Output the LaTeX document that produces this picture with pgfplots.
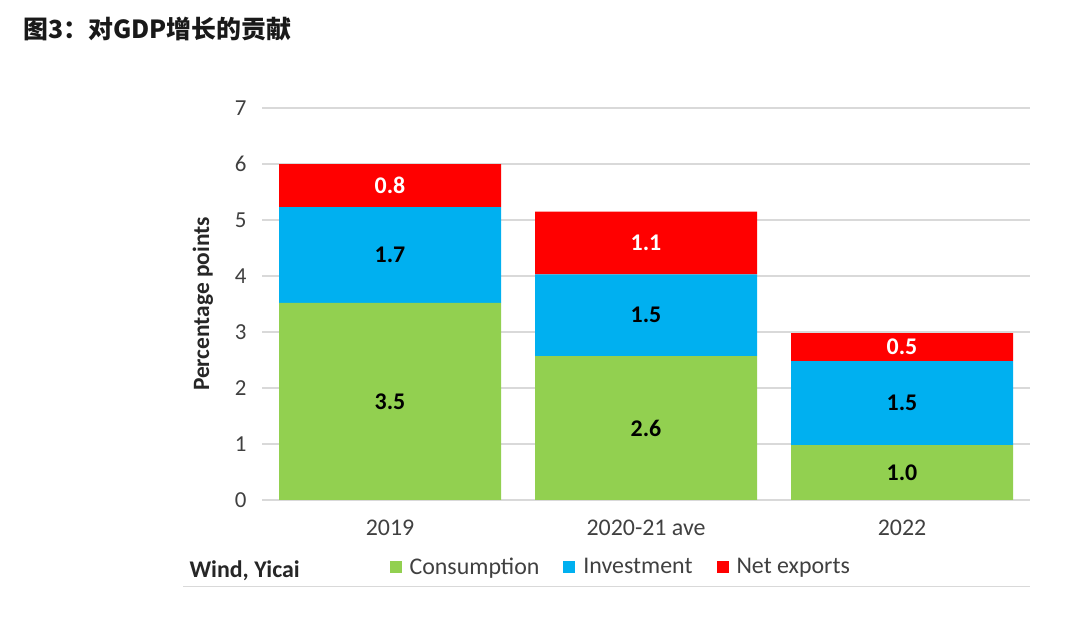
\documentclass[border=0pt]{standalone}
\usepackage{pgfplots}
\pgfplotsset{compat=1.18}
\usepackage{pgfplotstable}
\usepackage{fontspec}
\setmainfont{Carlito}
\newfontfamily\cjk{Noto Sans CJK SC}

\definecolor{cons}{HTML}{92D050}
\definecolor{inv}{HTML}{00B0F0}
\definecolor{nx}{HTML}{FF0000}
\definecolor{gridc}{HTML}{D9D9D9}
\definecolor{txt}{HTML}{404040}

% contributions to GDP growth, percentage points
\pgfplotstableread{
x cons inv nx
0 3.52 1.71 0.77
1 2.57 1.46 1.12
2 0.98 1.50 0.50
}\contrib

\pgfplotsset{
  base/.style={
    scale only axis, width=768bp, height=392bp,
    at={(262bp,119bp)}, anchor=south west,
    xmin=-0.5, xmax=2.5, ymin=0, ymax=7,
  },
  lab/.style={
    only marks, mark=none,
    nodes near coords,
    every node near coord/.append style={
      font=\bfseries\fontsize{24}{26}\selectfont, anchor=center, text=#1,
      /pgf/number format/fixed, /pgf/number format/fixed zerofill,
      /pgf/number format/precision=1, /pgf/number format/assume math mode=true},
  },
}

\begin{document}
\begin{tikzpicture}
\useasboundingbox (0,0) rectangle (1080bp,619bp);

\node[anchor=base west, font=\cjk\bfseries\fontsize{25}{28}\selectfont, text=black!90] at (20bp,580bp) {图3：对GDP增长的贡献};

\begin{axis}[base,
  ybar stacked, bar width=222bp,
  axis line style={draw=none},
  major tick length=0pt,
  ymajorgrids, grid style={gridc, line width=1.2bp},
  xtick={0,1,2}, xticklabels={2019,2020-21 ave,2022},
  ytick={0,1,...,7},
  tick label style={text=txt},
  yticklabel style={font=\fontsize{23}{25}\selectfont, xshift=-12bp},
  xticklabel style={font=\fontsize{24}{26}\selectfont, yshift=-16bp},
  /pgf/number format/assume math mode=true,
  ylabel={Percentage points},
  ylabel style={at={(axis description cs:-0.077,0.5)}, anchor=center,
    font=\bfseries\fontsize{23.5}{25}\selectfont, text=black!85},
  legend columns=3,
  legend style={draw=none, fill=none, at={(rel axis cs:0.162,-0.171)}, anchor=west,
    font=\fontsize{24}{26}\selectfont, text=txt,
    /tikz/every even column/.append style={column sep=22bp},
    /tikz/every odd column/.append style={column sep=6bp}},
  legend image code/.code={\fill[#1] (0bp,-6bp) rectangle (12bp,6bp);},
]
\addplot[fill=cons, draw=none] table[x=x, y=cons]{\contrib};
\addplot[fill=inv, draw=none] table[x=x, y=inv]{\contrib};
\addplot[fill=nx, draw=none] table[x=x, y=nx]{\contrib};
\legend{Consumption, Investment, Net exports}
\end{axis}

% segment labels, centred in each segment
\begin{axis}[base, hide axis, point meta=explicit]
\addplot[lab=black] table[x=x, y expr=\thisrow{cons}/2, meta=cons]{\contrib};
\addplot[lab=black] table[x=x, y expr=\thisrow{cons}+\thisrow{inv}/2, meta=inv]{\contrib};
\addplot[lab=white] table[x=x, y expr=\thisrow{cons}+\thisrow{inv}+\thisrow{nx}/2, meta=nx]{\contrib};
\end{axis}

\node[anchor=base west, font=\bfseries\fontsize{24}{26}\selectfont, text=black!85] at (186bp,41bp) {Wind, Yicai};
\draw[gridc, line width=1bp] (183bp,32bp) -- (1030bp,32bp);
\end{tikzpicture}
\end{document}
